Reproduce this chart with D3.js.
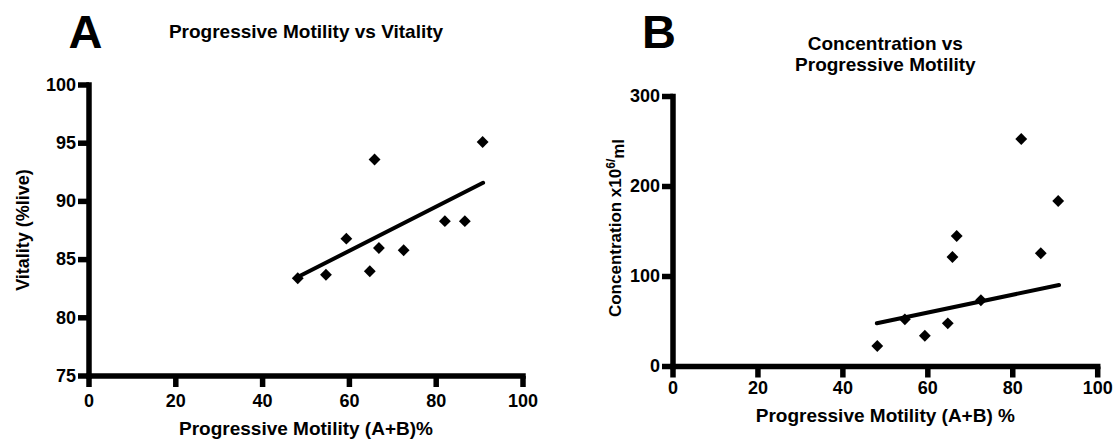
<!DOCTYPE html>
<html>
<head>
<meta charset="utf-8">
<script src="https://cdn.jsdelivr.net/npm/d3@7"></script>
<style>
  html, body { margin: 0; padding: 0; background: #fff; }
  svg text { font-family: "Liberation Sans", Arial, Helvetica, sans-serif; font-weight: bold; fill: #000; }
</style>
</head>
<body>
<svg id="chart" width="1114" height="439"></svg>
<script>
// ---- Data ----
const motility      = [48.1, 54.6, 59.3, 64.7, 65.8, 66.8, 72.5, 82.0, 86.6, 90.7];
const vitality      = [83.4, 83.7, 86.8, 84.0, 93.6, 86.0, 85.8, 88.3, 88.3, 95.1];
const concentration = [22.8, 52.4, 34.2, 48.0, 121.7, 145.0, 73.6, 252.8, 125.8, 183.9];
const lineA = [[48.1, 83.5], [90.8, 91.6]];
const lineB = [[48.0, 48.0], [90.9, 90.6]];
const xTicks  = [0, 20, 40, 60, 80, 100];
const yTicksA = [75, 80, 85, 90, 95, 100];
const yTicksB = [0, 100, 200, 300];

const svg = d3.select("#chart");

function panel(cfg) {
  const x = d3.scaleLinear().domain([0, 100]).range([cfg.x0, cfg.x1]);
  const y = d3.scaleLinear().domain(cfg.yDomain).range([cfg.y0, cfg.y1]);
  const g = svg.append("g");

  const xAxis = g.append("g").attr("transform", `translate(0,${cfg.y0})`)
    .call(d3.axisBottom(x).tickValues(xTicks).tickSize(11).tickSizeOuter(0).tickPadding(cfg.xPad).offset(0));
  const yAxis = g.append("g").attr("transform", `translate(${cfg.x0},0)`)
    .call(d3.axisLeft(y).tickValues(cfg.yTicks).tickSize(11).tickSizeOuter(0).tickPadding(2).offset(0));
  [xAxis, yAxis].forEach(a => {
    a.selectAll("path, line").attr("stroke", "#000").attr("stroke-width", cfg.axw);
    a.select(".domain").attr("stroke-linecap", "square");
    a.selectAll(".tick text").style("font-size", "18px").attr("fill", "#000");
  });

  // regression line
  g.append("path")
    .attr("d", d3.line().x(d => x(d[0])).y(d => y(d[1]))(cfg.line))
    .attr("fill", "none").attr("stroke", "#000").attr("stroke-width", 4).attr("stroke-linecap", "round");

  // points
  const sym = d3.symbol(d3.symbolSquare, 70);
  g.selectAll("path.pt").data(motility.map((m, i) => [m, cfg.values[i]])).enter()
    .append("path").attr("class", "pt")
    .attr("d", sym)
    .attr("transform", d => `translate(${x(d[0])},${y(d[1])}) rotate(45)`)
    .attr("fill", "#000");

  // panel letter
  g.append("text").attr("x", cfg.letterX).attr("y", 48).attr("text-anchor", "middle")
    .style("font-size", "47px").text(cfg.letter);

  // title
  const tc = (cfg.x0 + cfg.x1) / 2;
  cfg.title.forEach((t, i) => {
    g.append("text").attr("x", tc).attr("y", cfg.titleY + i * 21).attr("text-anchor", "middle")
      .style("font-size", "19px").text(t);
  });

  // x label
  g.append("text").attr("x", tc).attr("y", cfg.xLabelY).attr("text-anchor", "middle")
    .style("font-size", "19px").text(cfg.xLabel);

  // y label
  const yl = g.append("text")
    .attr("transform", `translate(${cfg.yLabelX},${cfg.yLabelC}) rotate(-90)`)
    .attr("text-anchor", "middle").style("font-size", cfg.yLabelSize);
  cfg.yLabel(yl);
}

panel({
  x0: 89, x1: 523, y0: 376, y1: 85, yDomain: [75, 100], yTicks: yTicksA,
  values: vitality, line: lineA, xPad: 7, axw: 5.5,
  letter: "A", letterX: 85.5,
  title: ["Progressive Motility vs Vitality"], titleY: 38,
  xLabel: "Progressive Motility (A+B)%", xLabelY: 435,
  yLabelX: 28.5, yLabelC: 230, yLabelSize: "18px",
  yLabel: t => t.text("Vitality (%live)")
});

panel({
  x0: 673, x1: 1097.7, y0: 366.5, y1: 96.5, yDomain: [0, 300], yTicks: yTicksB,
  values: concentration, line: lineB, xPad: 4, axw: 5.5,
  letter: "B", letterX: 659,
  title: ["Concentration vs", "Progressive Motility"], titleY: 50,
  xLabel: "Progressive Motility (A+B) %", xLabelY: 421.5,
  yLabelX: 621, yLabelC: 228, yLabelSize: "17px",
  yLabel: t => {
    t.append("tspan").text("Concentration x10");
    t.append("tspan").attr("dy", "-0.5em").style("font-size", "12px").text("6/");
    t.append("tspan").attr("dy", "0.5em").text("ml");
  }
});
</script>
</body>
</html>
